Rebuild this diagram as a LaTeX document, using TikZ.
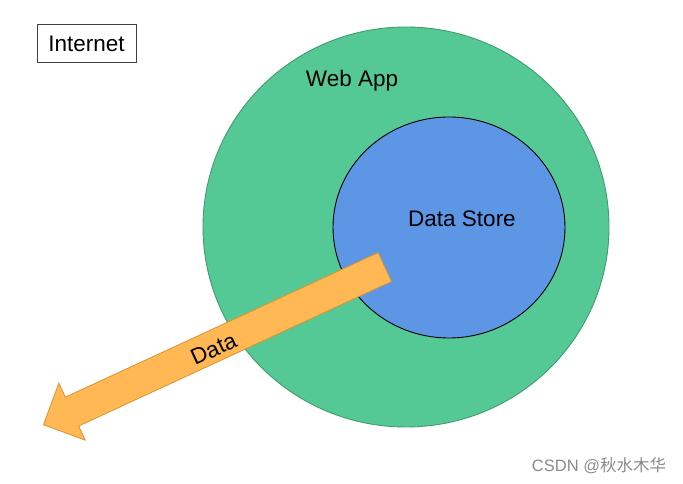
\documentclass[tikz,border=0pt]{standalone}
\usepackage{fontspec}
\setmainfont{Liberation Sans}
\newfontfamily\cjk{Noto Sans CJK SC}
\usepackage{tikz}
\usetikzlibrary{shapes.geometric,shapes.arrows}
\definecolor{appGreen}{HTML}{55C995}
\definecolor{appGreenLine}{HTML}{3E9C6E}
\definecolor{storeBlue}{HTML}{5E96E6}
\definecolor{dataOrange}{HTML}{FFB854}
\definecolor{dataOrangeLine}{HTML}{D9922E}
\definecolor{markGrey}{HTML}{8A8A8A}
\tikzset{
  lbl/.style={font=\fontsize{22.5}{27}\selectfont, inner sep=0pt},
  zone/.style={ellipse, draw, line width=0.9pt, inner sep=0pt},
  netbox/.style={draw=black!75, line width=1pt, minimum width=99pt, minimum height=38pt, inner sep=0pt},
  flow/.style={single arrow, draw=dataOrangeLine, fill=dataOrange, line width=0.8pt,
    inner xsep=0pt, inner ysep=15.5pt, minimum height=376pt, single arrow head extend=15.5pt,
    shape border rotate=180},
}

\begin{document}
\begin{tikzpicture}[x=1pt, y=1pt]
\useasboundingbox (0,0) rectangle (683,484);
% zones
\node[zone, draw=appGreenLine, fill=appGreen, minimum width=406pt, minimum height=400pt] (webapp) at (406,257) {};
\node[zone, draw=black, fill=storeBlue, minimum width=232pt, minimum height=221pt] (store) at (449,256.5) {};
\node[lbl] (webappLbl) at (352,403) {Web App};
\node[lbl] (storeLbl) at (462,265) {Data Store};
% outside
\node[lbl, netbox] (internet) at (86.5,440) {Internet};
% data leaving the store
\node[flow, rotate=24.8, anchor=tip] (data) at (43,59) {};
\node[lbl, rotate=24.8] (dataLbl) at (213.6,135) {Data};
\node[font=\fontsize{16.5}{19}\selectfont, text=markGrey, inner sep=0pt] (mark) at (599,18) {CSDN @{\cjk 秋水木华}};
\end{tikzpicture}
\end{document}
